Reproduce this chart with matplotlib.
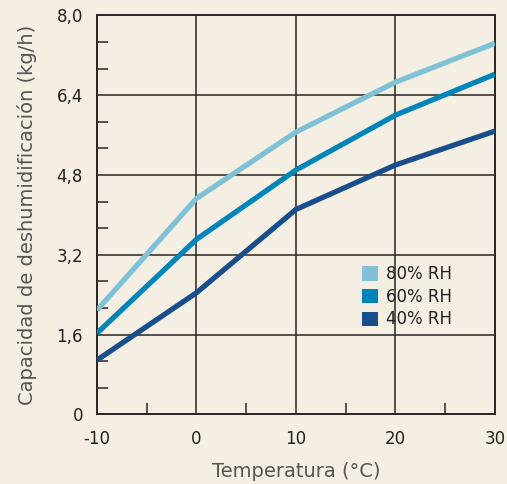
import matplotlib
matplotlib.use("Agg")
import matplotlib.pyplot as plt
from matplotlib.patches import Patch
from matplotlib.ticker import FixedLocator

plt.rcParams['font.family'] = ['DejaVu Sans']

temps = [-10, 0, 10, 20, 30]
rh80 = [2.09, 4.33, 5.66, 6.66, 7.44]
rh60 = [1.63, 3.51, 4.90, 6.00, 6.82]
rh40 = [1.09, 2.44, 4.11, 5.00, 5.68]
series_labels = ["80% RH", "60% RH", "40% RH"]
colors = ["#7fc2d6", "#0085bb", "#184e8c"]
xticks = [-10, 0, 10, 20, 30]
xtick_labels = ["-10", "0", "10", "20", "30"]
yticks = [0, 1.6, 3.2, 4.8, 6.4, 8.0]
ytick_labels = ["0", "1,6", "3,2", "4,8", "6,4", "8,0"]

bg = "#f5eee3"
ink = "#2b2623"

fig = plt.figure(figsize=(5.07, 4.84), dpi=100, facecolor=bg)
ax = fig.add_axes([0.1913, 0.1436, 0.7850, 0.8248], facecolor=bg)

for ys, c, lab in zip([rh80, rh60, rh40], colors, series_labels):
    ax.plot(temps, ys, color=c, lw=3.8, solid_capstyle='butt', solid_joinstyle='miter', zorder=3, label=lab)

ax.set_xlim(-10, 30)
ax.set_ylim(0, 8)
ax.set_xticks(xticks)
ax.set_xticklabels(xtick_labels)
ax.set_yticks(yticks)
ax.set_yticklabels(ytick_labels)
ax.xaxis.set_minor_locator(FixedLocator([-5, 5, 15, 25]))
ax.yaxis.set_minor_locator(FixedLocator([v + k * 1.6 / 3 for v in yticks[:-1] for k in (1, 2)]))
ax.tick_params(which='major', length=0, labelsize=12, labelcolor="#222222")
ax.tick_params(axis='x', which='major', pad=11)
ax.tick_params(axis='y', which='major', pad=10)
ax.tick_params(which='minor', direction='in', length=8, width=1.1, color=ink)
ax.grid(True, which='major', color=ink, lw=1.1, zorder=1)
for s in ax.spines.values():
    s.set_color(ink)
    s.set_linewidth(1.4)

ax.set_xlabel("Temperatura (°C)", fontsize=14, color="#555555", labelpad=10)
ax.set_ylabel("Capacidad de deshumidificación (kg/h)", fontsize=14, color="#555555", labelpad=14)

handles = [Patch(facecolor=c, edgecolor='none') for c in colors]
leg = ax.legend(handles, series_labels, loc='upper left', bbox_to_anchor=(0.645, 0.395),
                frameon=False, fontsize=12, handlelength=0.95, handleheight=0.95,
                handletextpad=0.5, labelspacing=0.28, borderpad=0)
for t in leg.get_texts():
    t.set_color("#222222")

fig.savefig("out.png", dpi=100, facecolor=bg)
